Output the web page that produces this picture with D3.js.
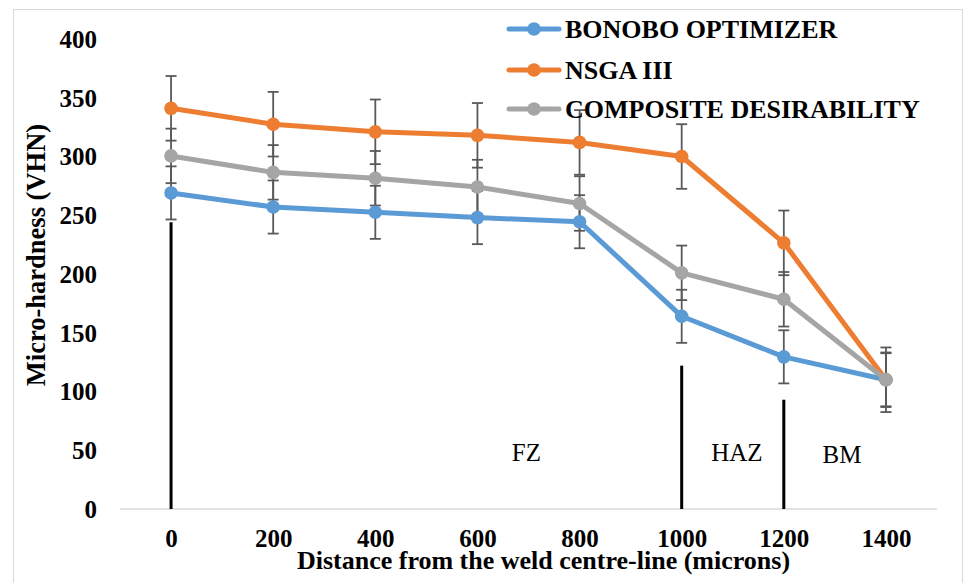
<!DOCTYPE html>
<html>
<head>
<meta charset="utf-8">
<script src="https://cdn.jsdelivr.net/npm/d3@7/dist/d3.min.js"></script>
<style>
  html, body { margin: 0; padding: 0; background: #fff; }
  svg { display: block; }
  text { font-family: "Liberation Serif", "Times New Roman", serif; }
</style>
</head>
<body>
<svg id="chart" width="972" height="583"></svg>
<script>
// Distance from the weld centre-line (microns)
const distances = [0, 200, 400, 600, 800, 1000, 1200, 1400];
const xTicks = [0, 200, 400, 600, 800, 1000, 1200, 1400];
const yTicks = [0, 50, 100, 150, 200, 250, 300, 350, 400];

// Micro-hardness (VHN) per method
const bonobo = [269, 257, 252.5, 248, 244.5, 164, 129.5, 110];
const nsga = [341, 327.5, 321, 318, 312, 300, 226.5, 110];
const composite = [300.5, 286.5, 281.5, 274, 260, 201, 178.5, 110];

// Error bar half-widths (VHN), one per method
const bonoboErr = 22.6;
const nsgaErr = 27.5;
const compositeErr = 23.2;

const seriesNames = ["BONOBO OPTIMIZER", "NSGA III", "COMPOSITE DESIRABILITY"];
const seriesColors = ["#5B9BD5", "#ED7D31", "#A5A5A5"];

// Weld zone boundaries and labels
const zoneBoundaries = [0, 1000, 1200];
const zoneBoundaryTops = [244, 122, 93];
const zoneLabels = ["FZ", "HAZ", "BM"];
const zoneLabelX = [696, 1108, 1314];
const zoneLabelY = [41, 41, 39];

const series = [
  { name: seriesNames[0], color: seriesColors[0], values: bonobo, err: bonoboErr },
  { name: seriesNames[1], color: seriesColors[1], values: nsga, err: nsgaErr },
  { name: seriesNames[2], color: seriesColors[2], values: composite, err: compositeErr }
];

const svg = d3.select("#chart");

// Outer chart frame
svg.append("rect")
  .attr("x", 13.5).attr("y", 9.5)
  .attr("width", 949).attr("height", 580)
  .attr("fill", "#fff").attr("stroke", "#d9d9d9").attr("stroke-width", 1);

const plotLeft = 120, plotRight = 937;
const band = (plotRight - plotLeft) / distances.length;

const x = d3.scaleLinear()
  .domain([0, 1400])
  .range([plotLeft + band / 2, plotRight - band / 2]);

const y = d3.scaleLinear()
  .domain([0, 400])
  .range([509, 39]);

// Category axis line
svg.append("line")
  .attr("x1", plotLeft).attr("x2", plotRight)
  .attr("y1", y(0)).attr("y2", y(0))
  .attr("stroke", "#d9d9d9").attr("stroke-width", 1.5);

// X tick labels
const xAxis = d3.axisBottom(x).tickValues(xTicks).tickSize(0).tickPadding(0).tickFormat(d3.format("d"));
const gx = svg.append("g").attr("transform", `translate(0,${y(0)})`).call(xAxis);
gx.select(".domain").remove();
gx.selectAll("text")
  .attr("y", 38).attr("dy", null)
  .attr("font-family", "Liberation Serif").attr("font-size", 25).attr("font-weight", "bold")
  .attr("fill", "#000");

// Y tick labels
const yAxis = d3.axisLeft(y).tickValues(yTicks).tickSize(0).tickPadding(0);
const gy = svg.append("g").attr("transform", "translate(97,0)").call(yAxis);
gy.select(".domain").remove();
gy.selectAll("text")
  .attr("x", 0).attr("dy", "0.33em")
  .attr("font-family", "Liberation Serif").attr("font-size", 25).attr("font-weight", "bold")
  .attr("fill", "#000");

// Axis titles
svg.append("text")
  .attr("x", 543.5).attr("y", 568.5)
  .attr("text-anchor", "middle")
  .attr("font-size", 26).attr("font-weight", "bold")
  .text("Distance from the weld centre-line (microns)");

svg.append("text")
  .attr("transform", "translate(45,255) rotate(-90)")
  .attr("text-anchor", "middle")
  .attr("font-size", 26.5).attr("font-weight", "bold")
  .text("Micro-hardness (VHN)");

// Zone boundary lines
svg.append("g").selectAll("line")
  .data(zoneBoundaries)
  .join("line")
  .attr("x1", d => x(d)).attr("x2", d => x(d))
  .attr("y1", (d, i) => y(zoneBoundaryTops[i])).attr("y2", y(0))
  .attr("stroke", "#000").attr("stroke-width", 3);

// Zone labels
svg.append("g").selectAll("text")
  .data(zoneLabels)
  .join("text")
  .attr("x", (d, i) => x(zoneLabelX[i]))
  .attr("y", (d, i) => y(zoneLabelY[i]))
  .attr("text-anchor", "middle")
  .attr("font-size", 25)
  .text(d => d);

// Error bars
const capHalf = 5.5;
const errG = svg.append("g").attr("stroke", "#595959").attr("stroke-width", 1.8);
series.forEach(s => {
  s.values.forEach((v, i) => {
    const cx = x(distances[i]);
    const yt = y(v + s.err), yb = y(v - s.err);
    errG.append("line").attr("x1", cx).attr("x2", cx).attr("y1", yt).attr("y2", yb);
    errG.append("line").attr("x1", cx - capHalf).attr("x2", cx + capHalf).attr("y1", yt).attr("y2", yt);
    errG.append("line").attr("x1", cx - capHalf).attr("x2", cx + capHalf).attr("y1", yb).attr("y2", yb);
  });
});

// Lines and markers
const line = d3.line()
  .x((d, i) => x(distances[i]))
  .y(d => y(d));

series.forEach(s => {
  svg.append("path")
    .datum(s.values)
    .attr("d", line)
    .attr("fill", "none")
    .attr("stroke", s.color)
    .attr("stroke-width", 5)
    .attr("stroke-linejoin", "round")
    .attr("stroke-linecap", "round");
  svg.append("g").selectAll("circle")
    .data(s.values)
    .join("circle")
    .attr("cx", (d, i) => x(distances[i]))
    .attr("cy", d => y(d))
    .attr("r", 6.8)
    .attr("fill", s.color);
});

// Legend
const legend = svg.append("g");
const legendY = [29, 70, 109];
series.forEach((s, i) => {
  const g = legend.append("g").attr("transform", `translate(0,${legendY[i]})`);
  g.append("line")
    .attr("x1", 509).attr("x2", 559).attr("y1", 0).attr("y2", 0)
    .attr("stroke", s.color).attr("stroke-width", 5).attr("stroke-linecap", "round");
  g.append("circle").attr("cx", 534).attr("cy", 0).attr("r", 6.8).attr("fill", s.color);
  g.append("text")
    .attr("x", 565).attr("y", 8.5)
    .attr("font-size", 26).attr("font-weight", "bold")
    .text(s.name);
});
</script>
</body>
</html>
